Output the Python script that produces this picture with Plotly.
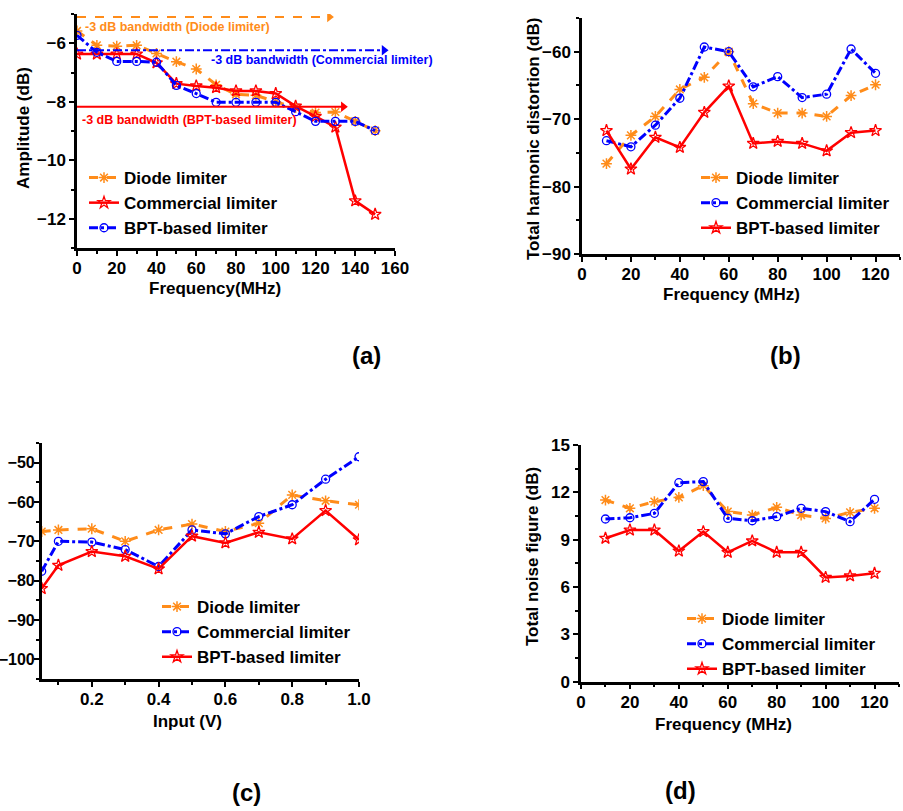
import plotly.graph_objects as go

W, H = 903, 811
FONT = "Liberation Sans, Arial, sans-serif"
ORANGE = "#FF8C1A"
BLUE = "#0000FF"
RED = "#FF0000"

# ---------- data ----------
# (a) amplitude vs frequency
freq_a = [0, 10, 20, 30, 40, 50, 60, 70, 80, 90, 100, 110, 120, 130, 140, 150]
amp_diode = [-5.58, -6.07, -6.1, -6.07, -6.35, -6.63, -6.88, -7.42, -7.75, -7.78, -8.0, -8.2, -8.37, -8.35, -8.67, -8.99]
amp_comm = [-6.37, -6.37, -6.37, -6.37, -6.67, -7.38, -7.46, -7.52, -7.63, -7.63, -7.72, -8.15, -8.5, -8.87, -11.39, -11.85]
amp_bpt = [-5.73, -6.31, -6.62, -6.62, -6.65, -7.44, -7.72, -8.02, -8.02, -8.02, -8.02, -8.34, -8.67, -8.67, -8.67, -8.99]
bw_levels = [-5.1, -6.24, -8.17]
bw_ends = [127, 154.5, 134]
bw_labels = ["-3 dB bandwidth (Diode limiter)", "-3 dB bandwidth (Commercial limiter)", "-3 dB bandwidth (BPT-based limiter)"]
bw_label_x = [3, 66.5, 1.5]
bw_label_y = [-5.45, -6.56, -8.62]

# (b) THD vs frequency
freq_b = [10, 20, 30, 40, 50, 60, 70, 80, 90, 100, 110, 120]
thd_diode = [-76.6, -72.4, -69.6, -65.6, -63.8, -60.0, -67.7, -69.1, -69.1, -69.6, -66.5, -64.9]
thd_comm = [-73.2, -74.1, -70.9, -66.9, -59.3, -60.0, -65.2, -63.7, -66.8, -66.3, -59.6, -63.2]
thd_bpt = [-71.7, -77.4, -72.7, -74.2, -69.0, -65.1, -73.6, -73.3, -73.6, -74.7, -72.0, -71.7]

# (c) THD vs input voltage
volt_c = [0.05, 0.1, 0.2, 0.3, 0.4, 0.5, 0.6, 0.7, 0.8, 0.9, 1.0]
vin_diode = [-67.5, -67.1, -66.8, -70.0, -67.1, -65.6, -67.5, -65.4, -58.2, -59.7, -60.7]
vin_comm = [-77.6, -70.0, -70.2, -72.1, -76.4, -67.1, -68.1, -63.7, -60.7, -54.2, -48.5]
vin_bpt = [-82.0, -76.1, -72.6, -73.8, -77.0, -68.7, -70.4, -67.7, -69.4, -62.2, -69.6]

# (d) noise figure vs frequency
freq_d = [10, 20, 30, 40, 50, 60, 70, 80, 90, 100, 110, 120]
nf_diode = [11.51, 10.99, 11.41, 11.68, 12.42, 10.78, 10.56, 11.05, 10.56, 10.35, 10.73, 10.99]
nf_comm = [10.31, 10.39, 10.67, 12.61, 12.68, 10.35, 10.2, 10.46, 10.99, 10.78, 10.14, 11.56]
nf_bpt = [9.09, 9.61, 9.61, 8.28, 9.51, 8.2, 8.92, 8.2, 8.2, 6.61, 6.7, 6.87]

panel_labels = ["(a)", "(b)", "(c)", "(d)"]
x_titles = ["Frequency(MHz)", "Frequency (MHz)", "Input (V)", "Frequency (MHz)"]
y_titles = ["Amplitude (dB)", "Total harmonic distortion (dB)", "Total noise figure (dB)"]

# ---------- helpers ----------
def px_x(p):
    return p / W

def px_y(p):
    return 1 - p / H

fig = go.Figure()

STY = {
    "diode": dict(line=dict(color=ORANGE, width=3, dash="dash"),
                  marker=dict(symbol="asterisk-open", size=9, color=ORANGE, line=dict(color=ORANGE, width=1.5))),
    "red": dict(line=dict(color=RED, width=2.5),
                marker=dict(symbol="star-open", size=9, color=RED, line=dict(color=RED, width=1.3))),
    "blue": dict(line=dict(color=BLUE, width=3, dash="dashdot"),
                 marker=dict(symbol="circle-open", size=8, color=BLUE, line=dict(color=BLUE, width=1.3))),
}

def add(x, y, name, sty, ax, legend):
    fig.add_trace(go.Scatter(x=x, y=y, name=name, mode="lines+markers",
                             xaxis="x" + ax, yaxis="y" + ax, legend=legend,
                             line=STY[sty]["line"], marker=STY[sty]["marker"]))

# (a)
add(freq_a, amp_diode, "Diode limiter", "diode", "", "legend")
add(freq_a, amp_comm, "Commercial limiter", "red", "", "legend")
add(freq_a, amp_bpt, "BPT-based limiter", "blue", "", "legend")
bw_col = [ORANGE, BLUE, RED]
bw_dash = ["dash", "dashdot", "solid"]
for lvl, end, c, d in zip(bw_levels, bw_ends, bw_col, bw_dash):
    fig.add_trace(go.Scatter(x=[0, end], y=[lvl, lvl], mode="lines", showlegend=False,
                             line=dict(color=c, width=2, dash=d), xaxis="x", yaxis="y"))
    fig.add_trace(go.Scatter(x=[end], y=[lvl], mode="markers", showlegend=False,
                             marker=dict(symbol="triangle-right", size=9, color=c),
                             xaxis="x", yaxis="y"))

# (b)
add(freq_b, thd_diode, "Diode limiter", "diode", "2", "legend2")
add(freq_b, thd_comm, "Commercial limiter", "blue", "2", "legend2")
add(freq_b, thd_bpt, "BPT-based limiter", "red", "2", "legend2")
# (c)
add(volt_c, vin_diode, "Diode limiter", "diode", "3", "legend3")
add(volt_c, vin_comm, "Commercial limiter", "blue", "3", "legend3")
add(volt_c, vin_bpt, "BPT-based limiter", "red", "3", "legend3")
# (d)
add(freq_d, nf_diode, "Diode limiter", "diode", "4", "legend4")
add(freq_d, nf_comm, "Commercial limiter", "blue", "4", "legend4")
add(freq_d, nf_bpt, "BPT-based limiter", "red", "4", "legend4")

tickfont = dict(family=FONT, size=17, color="black", weight="bold")
titlefont = dict(family=FONT, size=17, color="black", weight="bold")

def axis(domain, rng, dtick, minor_dtick, **kw):
    d = dict(domain=domain, range=rng, dtick=dtick, showline=True, linewidth=2.5,
             linecolor="black", ticks="outside", ticklen=5, tickwidth=2, tickcolor="black",
             showgrid=False, zeroline=False, tickfont=tickfont, automargin=False,
             minor=dict(dtick=minor_dtick, ticks="outside", ticklen=3, tickwidth=1.5, tickcolor="black"))
    d.update(kw)
    return d

def legend(xpx, ypx):
    return dict(x=px_x(xpx), y=px_y(ypx), xanchor="left", yanchor="top",
                bgcolor="rgba(0,0,0,0)", borderwidth=0, tracegroupgap=0,
                font=dict(family=FONT, size=17, color="black", weight="bold"))

annotations = []
for t, x, y, c in zip(bw_labels, bw_label_x, bw_label_y, bw_col):
    annotations.append(dict(text=t, x=x, y=y, xref="x", yref="y", xanchor="left", yanchor="middle",
                            showarrow=False, font=dict(family=FONT, size=12.5, color=c, weight="bold")))
for t, x, y in zip(panel_labels, [366, 785, 247, 680], [355, 355, 792, 790]):
    annotations.append(dict(text=t, x=px_x(x), y=px_y(y), xref="paper", yref="paper",
                            xanchor="center", yanchor="middle", showarrow=False,
                            font=dict(family=FONT, size=24, color="black", weight="bold")))
for t, x, y in zip(x_titles, [215, 731, 187, 723], [288, 294, 721, 724]):
    annotations.append(dict(text=t, x=px_x(x), y=px_y(y), xref="paper", yref="paper",
                            xanchor="center", yanchor="middle", showarrow=False, font=titlefont))
for t, x, y in zip(y_titles, [23, 533, 532], [128, 139, 557]):
    annotations.append(dict(text=t, x=px_x(x), y=px_y(y), xref="paper", yref="paper",
                            xanchor="center", yanchor="middle", showarrow=False, textangle=-90,
                            font=titlefont))

fig.update_layout(
    width=W, height=H, autosize=False,
    margin=dict(l=0, r=0, t=0, b=0),
    paper_bgcolor="white", plot_bgcolor="white",
    font=dict(family=FONT, color="black"),
    xaxis=axis([px_x(77), px_x(395)], [0, 160], 20, 10, anchor="y", ticklabelstandoff=-2),
    yaxis=axis([px_y(248), px_y(14)], [-13, -5], 2, 1, anchor="x"),
    xaxis2=axis([px_x(582), px_x(900)], [0, 130], 20, 10, anchor="y2", ticklabelstandoff=-2),
    yaxis2=axis([px_y(254), px_y(18)], [-90, -55], 10, 5, anchor="x2"),
    xaxis3=axis([px_x(41.7), px_x(359)], [0.05, 1.0], 0.2, 0.1, anchor="y3",
                tick0=0, tickformat=".1f", ticklabelstandoff=-2),
    yaxis3=axis([px_y(679), px_y(443)], [-105, -45], 10, 5, anchor="x3", ticklabelstandoff=-4,
                tickfont=dict(family=FONT, size=16, color="black", weight="bold")),
    xaxis4=axis([px_x(581), px_x(899)], [0, 130], 20, 10, anchor="y4", ticklabelstandoff=-2),
    yaxis4=axis([px_y(681.7), px_y(445)], [0, 15], 3, 1.5, anchor="x4"),
    legend=legend(84, 160),
    legend2=legend(696, 160),
    legend3=legend(157, 589),
    legend4=legend(682, 601),
    annotations=annotations,
)

fig.write_html("out.html", config={"displayModeBar": False},
               post_script="document.body.style.margin='0';document.body.style.overflow='hidden';")
